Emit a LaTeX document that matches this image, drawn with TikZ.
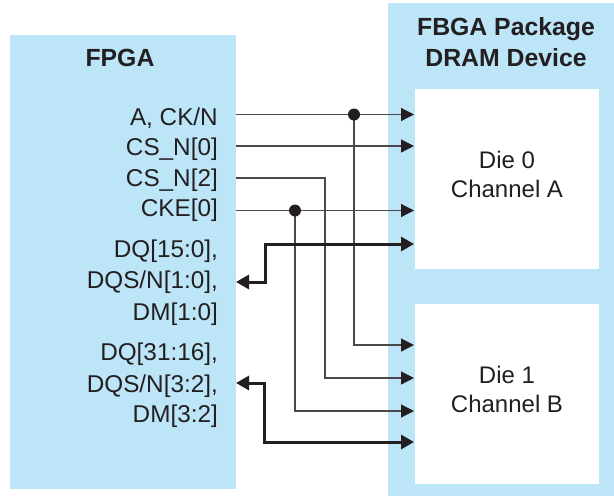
\documentclass[tikz,border=0pt]{standalone}
\usepackage{fontspec}
\setmainfont{Liberation Sans}
\usetikzlibrary{arrows.meta}
\definecolor{pkgblue}{HTML}{BDE5F8}
\definecolor{ink}{HTML}{231F20}
\definecolor{wire}{HTML}{4A4A4A}
\begin{document}
\begin{tikzpicture}[x=1pt,y=-1pt,
  blockbox/.style={fill=pkgblue,draw=none,inner sep=0pt,outer sep=0pt,anchor=north west},
  diebox/.style={fill=white,draw=none,inner sep=0pt,outer sep=0pt,anchor=north west,minimum width=184pt,minimum height=180pt},
  lbl/.style={anchor=base east,inner sep=0pt,font=\fontsize{24.3}{28}\selectfont,text=ink},
  ttl/.style={anchor=base,inner sep=0pt,font=\fontsize{24.8}{28}\selectfont\bfseries,text=ink},
  dielbl/.style={anchor=base,inner sep=0pt,font=\fontsize{24}{28}\selectfont,text=ink},
  thinwire/.style={draw=wire,line width=1.2pt,-{Triangle[length=13pt,width=13pt,color=ink]}},
  thickwire/.style={draw=ink,line width=3pt,{Triangle[length=13pt,width=14pt]}-{Triangle[length=13pt,width=14pt]}},
  joint/.style={circle,fill=ink,inner sep=0pt,minimum size=12pt}]
\useasboundingbox (0,0) rectangle (614,496);

% boxes
\node[blockbox,minimum width=226pt,minimum height=454pt] (fpga) at (10,35) {};
\node[blockbox,minimum width=226pt,minimum height=493pt] (dram) at (388,3) {};
\node[diebox] (die0) at (415,89) {};
\node[diebox] (die1) at (415,304) {};

% titles
\node[ttl] (tfpga) at (120,66.5) {FPGA};
\node[ttl] (tpkg) at (506,35) {FBGA Package};
\node[ttl] (tdev) at (506,66) {DRAM Device};
\node[dielbl] (d0a) at (507,168) {Die 0};
\node[dielbl] (d0b) at (507,197) {Channel A};
\node[dielbl] (d1a) at (507,383) {Die 1};
\node[dielbl] (d1b) at (507,412) {Channel B};

% FPGA labels
\node[lbl] (tA) at (218,125) {A, CK/N};
\node[lbl] (tCS0) at (218,155.5) {CS\_N[0]};
\node[lbl] (tCS2) at (218,186) {CS\_N[2]};
\node[lbl] (tCKE) at (218,216.5) {CKE[0]};
\node[lbl] (tDQa) at (218,257) {DQ[15:0],};
\node[lbl] (tDQSa) at (218,288.5) {DQS/N[1:0],};
\node[lbl] (tDMa) at (218,320.5) {DM[1:0]};
\node[lbl] (tDQb) at (218,360) {DQ[31:16],};
\node[lbl] (tDQSb) at (218,392) {DQS/N[3:2],};
\node[lbl] (tDMb) at (218,422) {DM[3:2]};

% ports on FPGA edge
\coordinate (oA) at (236,114.5);
\coordinate (oCS0) at (236,146);
\coordinate (oCS2) at (236,178);
\coordinate (oCKE) at (236,210.5);
\coordinate (oDQa) at (236,282);
\coordinate (oDQb) at (236,383);
% ports on die edges
\coordinate (iA0) at (414,114.5);
\coordinate (iCS0) at (414,146);
\coordinate (iCKE0) at (414,210.5);
\coordinate (iDQ0) at (414,244);
\coordinate (iA1) at (414,345);
\coordinate (iCS2) at (414,378);
\coordinate (iCKE1) at (414,411);
\coordinate (iDQ1) at (414,442);
% junctions
\coordinate (jA) at (354,114.5);
\coordinate (jCKE) at (295,210.5);

% thin wires
\draw[thinwire] (oA) -- (iA0);
\draw[thinwire] (jA) |- (iA1);
\draw[thinwire] (oCS0) -- (iCS0);
\draw[thinwire] (oCS2) -| (325,378) -- (iCS2);
\draw[thinwire] (oCKE) -- (iCKE0);
\draw[thinwire] (jCKE) |- (iCKE1);
\node[joint] (dotA) at (jA) {};
\node[joint] (dotCKE) at (jCKE) {};

% data buses
\draw[thickwire] (oDQa) -| (265,244) -- (iDQ0);
\draw[thickwire] (oDQb) -| (264,442) -- (iDQ1);
\end{tikzpicture}
\end{document}
